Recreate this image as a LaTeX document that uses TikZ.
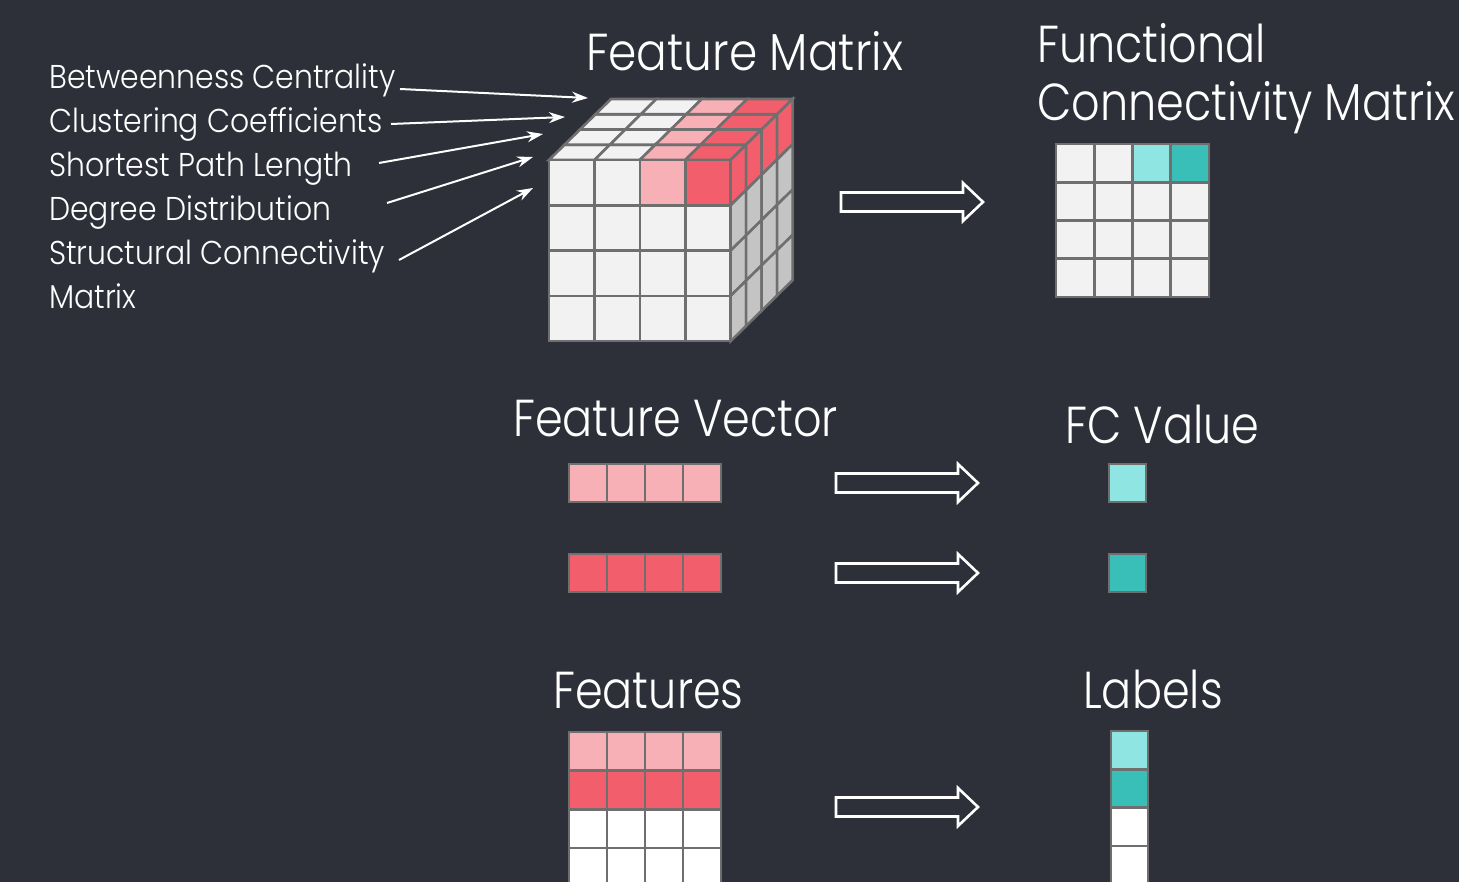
\documentclass[tikz,border=0pt]{standalone}
\usepackage{fontspec}
\IfFontExistsTF{Poppins Light}{\setmainfont{Poppins Light}}{\setmainfont{Poppins}}
\usetikzlibrary{arrows.meta}
\definecolor{bg}{HTML}{2D3039}
\definecolor{cellgray}{HTML}{F2F2F2}
\definecolor{sidegray}{HTML}{C4C4C4}
\definecolor{pinkc}{HTML}{F8B0B7}
\definecolor{redc}{HTML}{F25E6C}
\definecolor{cyanl}{HTML}{8FE5E2}
\definecolor{tealc}{HTML}{3ABFB8}
\definecolor{edge}{HTML}{6F6F6F}
\newcommand\lbltext[1]{\scalebox{0.905}[1]{#1}}
\newcommand\ttltext[1]{\scalebox{0.857}[1]{#1}}
\tikzset{
  cell/.style={draw=edge, line width=2.6pt, line join=miter},
  lbl/.style={anchor=base west, inner sep=0pt, text=white, font=\fontsize{33}{40}\selectfont},
  ttl/.style={anchor=base west, inner sep=0pt, text=white, font=\fontsize{52}{60}\selectfont},
  pointer/.style={draw=white, line width=2pt, -{Stealth[length=16pt,width=11pt]}},
  hollow/.pic={\draw[white, line width=2.6pt, line join=miter]
      (0,-9.5) -- (122,-9.5) -- (122,-19) -- (142,0) -- (122,19) -- (122,9.5) -- (0,9.5) -- cycle;}
}
\begin{document}
\begin{tikzpicture}[x=1pt,y=-1pt]
\useasboundingbox (0,0) rectangle (1459,882);
\clip (0,0) rectangle (1459,882);
\fill[bg] (0,0) rectangle (1459,882);

% ---- labels on the left ----
\node[lbl] (bc) at (49,89) {\lbltext{Betweenness Centrality}};
\node[lbl] (cc) at (49,133) {\lbltext{Clustering Coefficients}};
\node[lbl] (sp) at (49,177) {\lbltext{Shortest Path Length}};
\node[lbl] (dd) at (49,221) {\lbltext{Degree Distribution}};
\node[lbl] (sc) at (49,265) {\lbltext{Structural Connectivity}};
\node[lbl] (mx) at (49,309) {\lbltext{Matrix}};

% ---- titles ----
\node[ttl] (fm) at (586,71) {\scalebox{0.875}[1]{Feature Matrix}};
\node[ttl] (fc1) at (1037,63) {\ttltext{Functional}};
\node[ttl] (fc2) at (1037,121) {\ttltext{Connectivity Matrix}};
\node[ttl] (fv) at (513,436) {\ttltext{Feature Vector}};
\node[ttl] (fcv) at (1065,443) {\ttltext{FC Value}};
\node[ttl] (fs) at (553,708) {\ttltext{Features}};
\node[ttl] (lb) at (1083,708) {\ttltext{Labels}};

% ---- feature cube ----
\def\cw{45.4}\def\ch{45.3}\def\dx{15.5}\def\dy{-15.25}
\begin{scope}[shift={(549,160)}]
  % top face
  \foreach \i/\c in {0/cellgray,1/cellgray,2/pinkc,3/redc}
    \foreach \k in {0,...,3}
      \filldraw[cell, fill=\c] (\i*\cw+\k*\dx, \k*\dy) -- ++(\cw,0) -- ++(\dx,\dy) -- ++(-\cw,0) -- cycle;
  % right face
  \foreach \j/\c in {0/redc,1/sidegray,2/sidegray,3/sidegray}
    \foreach \k in {0,...,3}
      \filldraw[cell, fill=\c] (4*\cw+\k*\dx, \j*\ch+\k*\dy) -- ++(\dx,\dy) -- ++(0,\ch) -- ++(-\dx,-\dy) -- cycle;
  % front face
  \foreach \i in {0,...,3}
    \foreach \j in {0,...,3}{
      \ifnum\j=0
        \ifnum\i=2 \def\c{pinkc}\else\ifnum\i=3 \def\c{redc}\else\def\c{cellgray}\fi\fi
      \else\def\c{cellgray}\fi
      \filldraw[cell, fill=\c] (\i*\cw, \j*\ch) rectangle ++(\cw,\ch);
    }
\end{scope}

% pointers from the feature names to the cube layers
\coordinate (s1) at (400,89);  \coordinate (t1) at (588,98);
\coordinate (s2) at (391,124); \coordinate (t2) at (565,117);
\coordinate (s3) at (379,163); \coordinate (t3) at (543,134);
\coordinate (s4) at (387,203); \coordinate (t4) at (533,157);
\coordinate (s5) at (399,260); \coordinate (t5) at (533,188);
\foreach \n in {1,...,5}
  \draw[pointer] (s\n) -- (t\n);

% ---- functional connectivity matrix ----
\def\fw{38.25}
\begin{scope}[shift={(1056,144)}]
  \foreach \i in {0,...,3}
    \foreach \j in {0,...,3}{
      \ifnum\j=0
        \ifnum\i=2 \def\c{cyanl}\else\ifnum\i=3 \def\c{tealc}\else\def\c{cellgray}\fi\fi
      \else\def\c{cellgray}\fi
      \filldraw[cell, fill=\c] (\i*\fw, \j*\fw) rectangle ++(\fw,\fw);
    }
\end{scope}

% ---- feature vectors and FC values ----
\foreach \i in {0,...,3}{
  \filldraw[cell, fill=pinkc] (569+\i*38,464) rectangle ++(38,38);
  \filldraw[cell, fill=redc] (569+\i*38,554) rectangle ++(38,38);
}
\filldraw[cell, fill=cyanl] (1109,464) rectangle ++(37,38);
\filldraw[cell, fill=tealc] (1109,554) rectangle ++(37,38);

% ---- features and labels ----
\foreach \i in {0,...,3}
  \foreach \j/\c in {0/pinkc,1/redc,2/white,3/white}
    \filldraw[cell, fill=\c] (569+\i*38,732+\j*38.7) rectangle ++(38,38.7);
\foreach \j/\c in {0/cyanl,1/tealc,2/white,3/white}
  \filldraw[cell, fill=\c] (1111,731+\j*38.3) rectangle ++(37,38.3);

% ---- transformation arrows ----
\pic at (841,202) {hollow};
\pic at (836,483) {hollow};
\pic at (836,573) {hollow};
\pic at (836,807) {hollow};
\end{tikzpicture}
\end{document}
